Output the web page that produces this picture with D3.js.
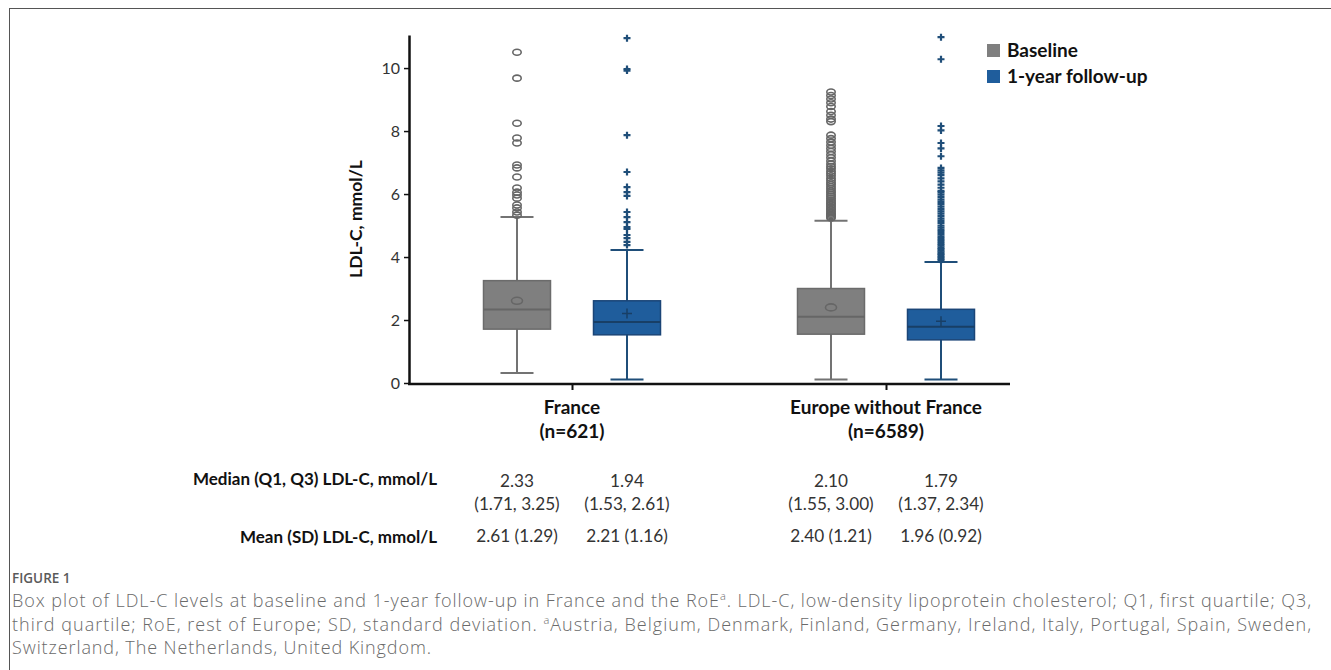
<!DOCTYPE html>
<html>
<head>
<meta charset="utf-8">
<script src="https://cdn.jsdelivr.net/npm/d3@7"></script>
<style>
  body { margin: 0; background: #fff; }
  svg { display: block; }
  .tick text { font-family: Lato, sans-serif; font-size: 16px; fill: #333; }
</style>
</head>
<body>
<div id="chart"></div>
<script>
// groups on the x axis
const groups = ["France", "Europe without France"];
const groupN = ["(n=621)", "(n=6589)"];
const times = ["Baseline", "1-year follow-up"];

// baseline series (one value per group)
const baselineQ1 = [1.71, 1.55];
const baselineMedian = [2.33, 2.10];
const baselineQ3 = [3.25, 3.00];
const baselineMean = [2.61, 2.40];
const baselineSD = [1.29, 1.21];
const baselineLow = [0.32, 0.11];
const baselineHigh = [5.27, 5.15];
const baselineOutliers = [
  [10.5, 9.68, 8.25, 7.78, 7.62, 6.92, 6.83, 6.54, 6.19, 6.06, 5.97, 5.87, 5.65, 5.56, 5.43, 5.33],
  [9.24, 9.13, 9.02, 8.9, 8.78, 8.62, 8.5, 8.38, 8.3, 7.87, 7.76, 7.65, 7.55, 7.45, 7.35, 7.25,
   7.15, 7.05, 6.95, 6.87, 6.8, 6.72, 6.65, 6.58, 6.5, 6.43, 6.36, 6.3, 6.23, 6.17, 6.1, 6.04,
   5.98, 5.92, 5.86, 5.8, 5.75, 5.7, 5.65, 5.6, 5.55, 5.5, 5.45, 5.4, 5.36, 5.32, 5.28, 5.24]
];

// 1-year follow-up series
const followQ1 = [1.53, 1.37];
const followMedian = [1.94, 1.79];
const followQ3 = [2.61, 2.34];
const followMean = [2.21, 1.96];
const followSD = [1.16, 0.92];
const followLow = [0.11, 0.11];
const followHigh = [4.22, 3.84];
const followOutliers = [
  [10.95, 9.97, 9.92, 7.87, 6.7, 6.22, 6.06, 5.94, 5.43, 5.27, 5.11, 4.95, 4.89, 4.7, 4.6, 4.48, 4.38],
  [10.98, 10.28, 8.16, 8.02, 7.62, 7.45, 7.2, 6.83, 6.75, 6.68, 6.6, 6.5, 6.4, 6.3, 6.2, 6.1,
   6.05, 5.98, 5.9, 5.82, 5.75, 5.68, 5.6, 5.52, 5.45, 5.38, 5.3, 5.22, 5.15, 5.08, 5.0, 4.93,
   4.86, 4.8, 4.73, 4.66, 4.6, 4.54, 4.48, 4.42, 4.36, 4.3, 4.25, 4.2, 4.15, 4.1, 4.05, 4.0, 3.95, 3.9]
];

const yTicks = [0, 2, 4, 6, 8, 10];
const yLabel = "LDL-C, mmol/L";
const rowLabels = ["Median (Q1, Q3) LDL-C, mmol/L", "Mean (SD) LDL-C, mmol/L"];

const captionTitle = "FIGURE 1";
const captionLines = [
  ["Box plot of LDL-C levels at baseline and 1-year follow-up in France and the RoE", "a", ". LDL-C, low-density lipoprotein cholesterol; Q1, first quartile; Q3,"],
  ["third quartile; RoE, rest of Europe; SD, standard deviation. ", "a", "Austria, Belgium, Denmark, Finland, Germany, Ireland, Italy, Portugal, Spain, Sweden,"],
  ["Switzerland, The Netherlands, United Kingdom.", "", ""]
];

const width = 1331, height = 670;
const colors = {
  "Baseline": {fill: "#7f7f7f", stroke: "#6b6b6b", line: "#737373", dark: "#666"},
  "1-year follow-up": {fill: "#1f5d9c", stroke: "#1b4577", line: "#1f4e79", dark: "#183f66"}
};

const series = [
  {time: times[0], q1: baselineQ1, med: baselineMedian, q3: baselineQ3, mean: baselineMean, sd: baselineSD, lo: baselineLow, hi: baselineHigh, out: baselineOutliers},
  {time: times[1], q1: followQ1, med: followMedian, q3: followQ3, mean: followMean, sd: followSD, lo: followLow, hi: followHigh, out: followOutliers}
];

const boxes = [];
groups.forEach((g, gi) => series.forEach(s => boxes.push({
  group: g, time: s.time, q1: s.q1[gi], med: s.med[gi], q3: s.q3[gi],
  mean: s.mean[gi], sd: s.sd[gi], lo: s.lo[gi], hi: s.hi[gi], out: s.out[gi]
})));

const svg = d3.select("#chart").append("svg")
  .attr("width", width).attr("height", height);

// frame
svg.append("line").attr("x1", 9).attr("x2", width).attr("y1", 8.5).attr("y2", 8.5)
  .attr("stroke", "#555").attr("stroke-width", 1);
svg.append("line").attr("x1", 9.5).attr("x2", 9.5).attr("y1", 8).attr("y2", height)
  .attr("stroke", "#555").attr("stroke-width", 1);

const plotLeft = 409, plotRight = 1010, plotTop = 35, plotBottom = 383;

const y = d3.scaleLinear().domain([0, 11.05]).range([plotBottom, plotTop]);
const x = d3.scalePoint().domain(groups).range([572, 886]);
const xSub = d3.scalePoint().domain(times).range([-55, 55]);
const boxW = 67, capW = 33;
const cx = d => x(d.group) + xSub(d.time);

// y axis
const yAxis = svg.append("g")
  .attr("transform", `translate(${plotLeft},0)`)
  .call(d3.axisLeft(y).tickValues(yTicks).tickSize(5).tickSizeOuter(0).tickPadding(4));
yAxis.select(".domain").attr("stroke", "#111").attr("stroke-width", 2.5);
yAxis.selectAll(".tick line").attr("stroke", "#111").attr("stroke-width", 1.5);

// x axis
svg.append("line").attr("x1", plotLeft - 1).attr("x2", plotRight)
  .attr("y1", plotBottom + 1).attr("y2", plotBottom + 1)
  .attr("stroke", "#111").attr("stroke-width", 2.5);
const xAxis = svg.append("g")
  .attr("transform", `translate(0,${plotBottom + 1})`)
  .call(d3.axisBottom(x).tickSize(6).tickSizeOuter(0).tickFormat(""));
xAxis.select(".domain").remove();
xAxis.selectAll(".tick line").attr("stroke", "#111").attr("stroke-width", 2);

// group labels
const gl = svg.append("g").selectAll("text").data(groups).join("text")
  .attr("x", d => x(d)).attr("y", 414)
  .attr("text-anchor", "middle")
  .attr("font-family", "Lato, sans-serif").attr("font-weight", "bold")
  .attr("font-size", 19).attr("fill", "#111");
gl.append("tspan").attr("x", d => x(d)).text(d => d);
gl.append("tspan").attr("x", d => x(d)).attr("dy", 24).text((d, i) => groupN[i]);

// y label
svg.append("text")
  .attr("transform", `translate(362,${(plotTop + plotBottom) / 2 + 10}) rotate(-90)`)
  .attr("text-anchor", "middle")
  .attr("font-family", "Lato, sans-serif").attr("font-weight", "bold")
  .attr("font-size", 17.5).attr("fill", "#111")
  .text(yLabel);

// boxes
const bg = svg.append("g").selectAll("g").data(boxes).join("g");

bg.append("line")
  .attr("x1", cx).attr("x2", cx)
  .attr("y1", d => y(d.lo)).attr("y2", d => y(d.hi))
  .attr("stroke", d => colors[d.time].line).attr("stroke-width", 2);
bg.append("line")
  .attr("x1", d => cx(d) - capW / 2).attr("x2", d => cx(d) + capW / 2)
  .attr("y1", d => y(d.hi)).attr("y2", d => y(d.hi))
  .attr("stroke", d => colors[d.time].line).attr("stroke-width", 2);
bg.append("line")
  .attr("x1", d => cx(d) - capW / 2).attr("x2", d => cx(d) + capW / 2)
  .attr("y1", d => y(d.lo)).attr("y2", d => y(d.lo))
  .attr("stroke", d => colors[d.time].line).attr("stroke-width", 2);

bg.append("rect")
  .attr("x", d => cx(d) - boxW / 2).attr("width", boxW)
  .attr("y", d => y(d.q3)).attr("height", d => y(d.q1) - y(d.q3))
  .attr("fill", d => colors[d.time].fill)
  .attr("stroke", d => colors[d.time].stroke).attr("stroke-width", 1.5);
bg.append("line")
  .attr("x1", d => cx(d) - boxW / 2).attr("x2", d => cx(d) + boxW / 2)
  .attr("y1", d => y(d.med)).attr("y2", d => y(d.med))
  .attr("stroke", d => colors[d.time].dark).attr("stroke-width", 2);

// symbols: circle for baseline, plus for follow-up
function marker(sel, d, v, big) {
  const px = cx(d), py = y(v);
  if (d.time === times[0]) {
    sel.append("ellipse").attr("cx", px).attr("cy", py)
      .attr("rx", big ? 5.5 : 4.2).attr("ry", big ? 3.5 : 3)
      .attr("fill", "none").attr("stroke", colors[d.time].dark).attr("stroke-width", 1.6);
  } else {
    const r = big ? 5 : 3.5;
    sel.append("path")
      .attr("d", `M${px - r},${py}H${px + r}M${px},${py - r}V${py + r}`)
      .attr("stroke", big ? colors[d.time].dark : colors[d.time].line)
      .attr("stroke-width", big ? 1.5 : 2.2);
  }
}
bg.each(function (d) {
  const sel = d3.select(this);
  d.out.forEach(v => marker(sel, d, v, false));
  marker(sel, d, d.mean, true);
});

// legend
const leg = svg.append("g").selectAll("g").data(times).join("g")
  .attr("transform", (d, i) => `translate(987,${44 + i * 26})`);
leg.append("rect").attr("width", 13).attr("height", 13)
  .attr("fill", d => colors[d].fill);
leg.append("text").attr("x", 20).attr("y", 13)
  .attr("font-family", "Lato, sans-serif").attr("font-weight", "bold")
  .attr("font-size", 19).attr("fill", "#111")
  .text(d => d);

// summary table
const f2 = d3.format(".2f");
const tbl = svg.append("g").attr("font-family", "Lato, sans-serif");
tbl.selectAll("text.row").data(rowLabels).join("text")
  .attr("class", "row")
  .attr("x", 437).attr("y", (d, i) => i ? 543 : 485)
  .attr("text-anchor", "end").attr("font-weight", "bold")
  .attr("font-size", 17).attr("fill", "#111")
  .text(d => d);
const cell = tbl.selectAll("g.cell").data(boxes).join("g").attr("class", "cell")
  .attr("font-size", 17.2).attr("fill", "#333").attr("text-anchor", "middle");
cell.append("text").attr("x", cx).attr("y", 487).text(d => f2(d.med));
cell.append("text").attr("x", cx).attr("y", 510).text(d => `(${f2(d.q1)}, ${f2(d.q3)})`);
cell.append("text").attr("x", cx).attr("y", 542).text(d => `${f2(d.mean)} (${f2(d.sd)})`);

// caption
svg.append("text").attr("x", 12).attr("y", 583)
  .attr("font-family", "'Open Sans', sans-serif").attr("font-size", 13.5)
  .attr("font-weight", 600).attr("fill", "#5a5a5a")
  .text(captionTitle);
const cap = svg.append("g").selectAll("text").data(captionLines).join("text")
  .attr("x", 12).attr("y", (d, i) => 607 + i * 23.5)
  .attr("font-family", "'Open Sans', sans-serif").attr("font-size", 18)
  .attr("font-weight", 300).attr("letter-spacing", 0.9)
  .attr("fill", "#6a6a6a")
  .each(function (d, i) {
    if (i < 2) d3.select(this).attr("textLength", 1300).attr("lengthAdjust", "spacing");
  });
cap.append("tspan").text(d => d[0]);
cap.append("tspan").attr("font-size", 11).attr("dy", -7).text(d => d[1]);
cap.append("tspan").attr("dy", d => d[1] ? 7 : 0).text(d => d[2]);
</script>
</body>
</html>
